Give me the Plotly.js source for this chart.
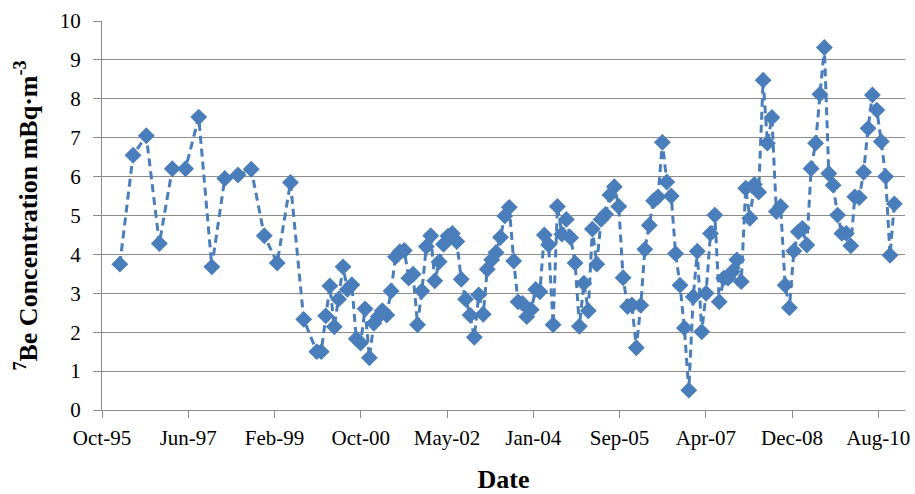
<!DOCTYPE html>
<html>
<head>
<meta charset="utf-8">
<script src="https://cdn.plot.ly/plotly-3.0.1.min.js"></script>
<style>
  html, body { margin: 0; padding: 0; background: #fff; }
  #chart { width: 915px; height: 494px; }
</style>
</head>
<body>
<div id="chart"></div>
<script>
// Sampling dates: quarterly 1996-03 .. 1999-09, then monthly 1999-12 .. 2010-12
const quarterlyDates = ['1996-03','1996-06','1996-09','1996-12','1997-03','1997-06','1997-09','1997-12',
  '1998-03','1998-06','1998-09','1998-12','1999-03','1999-06','1999-09'];
const quarterlyValues = [3.75, 6.55, 7.05, 4.28, 6.2, 6.2, 7.53, 3.68, 5.95, 6.04, 6.19, 4.48, 3.78, 5.85, 2.33];

const monthlyDates = ['1999-12',
  '2000-01','2000-02','2000-03','2000-04','2000-05','2000-06','2000-07','2000-08','2000-09','2000-10','2000-11','2000-12',
  '2001-01','2001-02','2001-03','2001-04','2001-05','2001-06','2001-07','2001-08','2001-09','2001-10','2001-11','2001-12',
  '2002-01','2002-02','2002-03','2002-04','2002-05','2002-06','2002-07','2002-08','2002-09','2002-10','2002-11','2002-12',
  '2003-01','2003-02','2003-03','2003-04','2003-05','2003-06','2003-07','2003-08','2003-09','2003-10','2003-11','2003-12',
  '2004-01','2004-02','2004-03','2004-04','2004-05','2004-06','2004-07','2004-08','2004-09','2004-10','2004-11','2004-12',
  '2005-01','2005-02','2005-03','2005-04','2005-05','2005-06','2005-07','2005-08','2005-09','2005-10','2005-11','2005-12',
  '2006-01','2006-02','2006-03','2006-04','2006-05','2006-06','2006-07','2006-08','2006-09','2006-10','2006-11','2006-12',
  '2007-01','2007-02','2007-03','2007-04','2007-05','2007-06','2007-07','2007-08','2007-09','2007-10','2007-11','2007-12',
  '2008-01','2008-02','2008-03','2008-04','2008-05','2008-06','2008-07','2008-08','2008-09','2008-10','2008-11','2008-12',
  '2009-01','2009-02','2009-03','2009-04','2009-05','2009-06','2009-07','2009-08','2009-09','2009-10','2009-11','2009-12',
  '2010-01','2010-02','2010-03','2010-04','2010-05','2010-06','2010-07','2010-08','2010-09','2010-10','2010-11','2010-12'];
const monthlyValues = [1.50,
  1.50, 2.42, 3.19, 2.14, 2.85, 3.68, 3.10, 3.22, 1.83, 1.72, 2.60, 1.34,
  2.23, 2.40, 2.55, 2.44, 3.06, 3.94, 4.07, 4.10, 3.39, 3.49, 2.19, 3.06,
  4.20, 4.48, 3.32, 3.81, 4.26, 4.47, 4.54, 4.33, 3.36, 2.85, 2.44, 1.87,
  2.96, 2.46, 3.62, 3.86, 4.05, 4.44, 4.99, 5.21, 3.83, 2.78, 2.74, 2.40,
  2.58, 3.10, 3.04, 4.50, 4.25, 2.19, 5.23, 4.52, 4.90, 4.43, 3.78, 2.15,
  3.26, 2.55, 4.65, 3.75, 4.90, 5.03, 5.53, 5.74, 5.23, 3.40, 2.66, 2.70,
  1.60, 2.69, 4.13, 4.75, 5.38, 5.48, 6.88, 5.86, 5.50, 4.02, 3.21, 2.11,
  0.51, 2.91, 4.08, 2.01, 3.00, 4.54, 5.01, 2.78, 3.39, 3.39, 3.56, 3.86,
  3.30, 5.70, 4.93, 5.80, 5.60, 8.48, 6.86, 7.52, 5.10, 5.23, 3.21, 2.63,
  4.09, 4.58, 4.67, 4.24, 6.21, 6.86, 8.12, 9.32, 6.08, 5.78, 5.01, 4.54,
  4.54, 4.22, 5.48, 5.46, 6.11, 7.24, 8.10, 7.71, 6.90, 6.00, 3.98, 5.30];

const xTitle = 'Date';
const yTitle = '<sup>7</sup>Be Concentration mBq·m<sup>-3</sup>';
const axisStart = '1995-10-29';
const axisEnd = '2011-02-13';
const tickStepDays = 600;

const dates = quarterlyDates.concat(monthlyDates);
const values = quarterlyValues.concat(monthlyValues);

const blue = '#4a7ebb';
const grid = '#8c8c8c';
const font = 'Liberation Serif, Times New Roman, serif';

const trace = {
  x: dates,
  y: values,
  type: 'scatter',
  mode: 'lines+markers',
  line: { color: blue, width: 3, dash: '8px,5px' },
  marker: { symbol: 'diamond', size: 13, color: blue },
  showlegend: false
};

const layout = {
  width: 915, height: 494,
  margin: { l: 102, r: 10, t: 21, b: 84 },
  paper_bgcolor: '#fff', plot_bgcolor: '#fff',
  font: { family: font, color: '#000', size: 21 },
  xaxis: {
    type: 'date',
    range: [axisStart, axisEnd],
    tick0: axisStart,
    dtick: tickStepDays * 86400000,
    tickformat: '%b-%y',
    showgrid: false,
    showline: true, linecolor: grid, linewidth: 1,
    ticks: 'outside', ticklen: 7, tickcolor: grid,
    tickfont: { family: font, size: 21 },
    ticklabelstandoff: 2,
    zeroline: false,
    title: { text: '<b>' + xTitle + '</b>', font: { family: font, size: 26 }, standoff: 24 }
  },
  yaxis: {
    range: [0, 10],
    dtick: 1,
    showgrid: true, gridcolor: grid, gridwidth: 1,
    showline: true, linecolor: grid, linewidth: 1,
    ticks: 'outside', ticklen: 8, tickcolor: grid,
    tickfont: { family: font, size: 21 },
    ticklabelstandoff: 8,
    zeroline: false,
    title: { text: '<b>' + yTitle + '</b>', font: { family: font, size: 26 }, standoff: 14 }
  }
};

Plotly.newPlot('chart', [trace], layout, { staticPlot: true, displayModeBar: false });
</script>
</body>
</html>
